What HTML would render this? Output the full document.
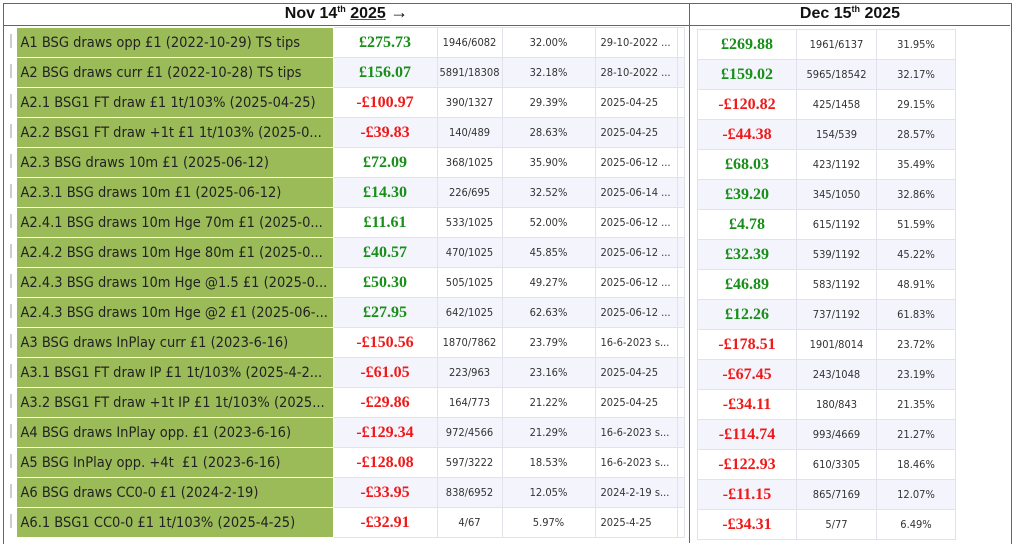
<!DOCTYPE html>
<html><head><meta charset="utf-8"><style>
body{margin:0;width:1024px;height:536px;overflow:hidden;background:#fff;font-family:"DejaVu Sans","Liberation Sans",sans-serif;position:relative}
.frame{position:absolute;left:3px;top:3px;width:1007px;height:540px;border:1px solid #666;border-bottom:none}
.hdr{position:absolute;top:3px;height:22px;border-bottom:1px solid #666;font-family:"Liberation Sans",sans-serif;font-weight:bold;font-size:16px;text-align:center;line-height:22px;color:#111}
.vdiv{position:absolute;left:689px;top:3px;width:1px;height:540px;background:#666}
table{position:absolute;border-collapse:collapse;table-layout:fixed}
td{height:29px;padding:0;border:1px solid #e2e2ea;font-size:11px;color:#333;text-align:center;white-space:nowrap;overflow:hidden;font-family:"DejaVu Sans Condensed","DejaVu Sans",sans-serif}
tr:nth-child(even) td{background:#f4f4fc}
td.lbl{background:#9bbb59 !important;font-size:14.5px;color:#222;text-align:left;padding-left:4px;border-color:#fff}
td.mk{border:none;background:#fff !important}
td.mk span{display:inline-block;width:2px;height:14px;background:#ccc}
td.d{text-align:left;padding-left:5px}
.g,.r{font-family:"Liberation Serif",serif;font-weight:bold;font-size:16px}
.g{color:#188f18}.r{color:#f01818}
sup{font-size:9px;line-height:0;vertical-align:6px}
.arr{font-size:18px;font-weight:normal;line-height:0}
</style></head><body>
<div class="frame"></div>
<div class="hdr" style="left:4px;width:685px">Nov 14<sup>th</sup> <span style="text-decoration:underline;text-decoration-color:#2050d0">2025</span> <span class="arr">→</span></div>
<div class="hdr" style="left:690px;width:320px">Dec 15<sup>th</sup> 2025</div>
<div class="vdiv"></div>
<table style="left:6px;top:27px;width:678px">
<colgroup><col style="width:10px"><col style="width:317px"><col style="width:104px"><col style="width:65px"><col style="width:93px"><col style="width:82px"><col style="width:7px"></colgroup>
<tr><td class="mk"><span></span></td><td class="lbl">A1 BSG draws opp £1 (2022-10-29) TS tips</td><td class="g">£275.73</td><td>1946/6082</td><td>32.00%</td><td class="d">29-10-2022 ...</td><td></td></tr>
<tr><td class="mk"><span></span></td><td class="lbl">A2 BSG draws curr £1 (2022-10-28) TS tips</td><td class="g">£156.07</td><td>5891/18308</td><td>32.18%</td><td class="d">28-10-2022 ...</td><td></td></tr>
<tr><td class="mk"><span></span></td><td class="lbl">A2.1 BSG1 FT draw £1 1t/103% (2025-04-25)</td><td class="r">-£100.97</td><td>390/1327</td><td>29.39%</td><td class="d">2025-04-25</td><td></td></tr>
<tr><td class="mk"><span></span></td><td class="lbl">A2.2 BSG1 FT draw +1t £1 1t/103% (2025-0...</td><td class="r">-£39.83</td><td>140/489</td><td>28.63%</td><td class="d">2025-04-25</td><td></td></tr>
<tr><td class="mk"><span></span></td><td class="lbl">A2.3 BSG draws 10m £1 (2025-06-12)</td><td class="g">£72.09</td><td>368/1025</td><td>35.90%</td><td class="d">2025-06-12 ...</td><td></td></tr>
<tr><td class="mk"><span></span></td><td class="lbl">A2.3.1 BSG draws 10m £1 (2025-06-12)</td><td class="g">£14.30</td><td>226/695</td><td>32.52%</td><td class="d">2025-06-14 ...</td><td></td></tr>
<tr><td class="mk"><span></span></td><td class="lbl">A2.4.1 BSG draws 10m Hge 70m £1 (2025-0...</td><td class="g">£11.61</td><td>533/1025</td><td>52.00%</td><td class="d">2025-06-12 ...</td><td></td></tr>
<tr><td class="mk"><span></span></td><td class="lbl">A2.4.2 BSG draws 10m Hge 80m £1 (2025-0...</td><td class="g">£40.57</td><td>470/1025</td><td>45.85%</td><td class="d">2025-06-12 ...</td><td></td></tr>
<tr><td class="mk"><span></span></td><td class="lbl">A2.4.3 BSG draws 10m Hge @1.5 £1 (2025-0...</td><td class="g">£50.30</td><td>505/1025</td><td>49.27%</td><td class="d">2025-06-12 ...</td><td></td></tr>
<tr><td class="mk"><span></span></td><td class="lbl">A2.4.3 BSG draws 10m Hge @2 £1 (2025-06-...</td><td class="g">£27.95</td><td>642/1025</td><td>62.63%</td><td class="d">2025-06-12 ...</td><td></td></tr>
<tr><td class="mk"><span></span></td><td class="lbl">A3 BSG draws InPlay curr £1 (2023-6-16)</td><td class="r">-£150.56</td><td>1870/7862</td><td>23.79%</td><td class="d">16-6-2023 s...</td><td></td></tr>
<tr><td class="mk"><span></span></td><td class="lbl">A3.1 BSG1 FT draw IP £1 1t/103% (2025-4-2...</td><td class="r">-£61.05</td><td>223/963</td><td>23.16%</td><td class="d">2025-04-25</td><td></td></tr>
<tr><td class="mk"><span></span></td><td class="lbl">A3.2 BSG1 FT draw +1t IP £1 1t/103% (2025...</td><td class="r">-£29.86</td><td>164/773</td><td>21.22%</td><td class="d">2025-04-25</td><td></td></tr>
<tr><td class="mk"><span></span></td><td class="lbl">A4 BSG draws InPlay opp. £1 (2023-6-16)</td><td class="r">-£129.34</td><td>972/4566</td><td>21.29%</td><td class="d">16-6-2023 s...</td><td></td></tr>
<tr><td class="mk"><span></span></td><td class="lbl">A5 BSG InPlay opp. +4t &nbsp;£1 (2023-6-16)</td><td class="r">-£128.08</td><td>597/3222</td><td>18.53%</td><td class="d">16-6-2023 s...</td><td></td></tr>
<tr><td class="mk"><span></span></td><td class="lbl">A6 BSG draws CC0-0 £1 (2024-2-19)</td><td class="r">-£33.95</td><td>838/6952</td><td>12.05%</td><td class="d">2024-2-19 s...</td><td></td></tr>
<tr><td class="mk"><span></span></td><td class="lbl">A6.1 BSG1 CC0-0 £1 1t/103% (2025-4-25)</td><td class="r">-£32.91</td><td>4/67</td><td>5.97%</td><td class="d">2025-4-25</td><td></td></tr>
</table>
<table style="left:697px;top:29px;width:258px">
<colgroup><col style="width:99px"><col style="width:80px"><col style="width:79px"></colgroup>
<tr><td class="g">£269.88</td><td>1961/6137</td><td>31.95%</td></tr>
<tr><td class="g">£159.02</td><td>5965/18542</td><td>32.17%</td></tr>
<tr><td class="r">-£120.82</td><td>425/1458</td><td>29.15%</td></tr>
<tr><td class="r">-£44.38</td><td>154/539</td><td>28.57%</td></tr>
<tr><td class="g">£68.03</td><td>423/1192</td><td>35.49%</td></tr>
<tr><td class="g">£39.20</td><td>345/1050</td><td>32.86%</td></tr>
<tr><td class="g">£4.78</td><td>615/1192</td><td>51.59%</td></tr>
<tr><td class="g">£32.39</td><td>539/1192</td><td>45.22%</td></tr>
<tr><td class="g">£46.89</td><td>583/1192</td><td>48.91%</td></tr>
<tr><td class="g">£12.26</td><td>737/1192</td><td>61.83%</td></tr>
<tr><td class="r">-£178.51</td><td>1901/8014</td><td>23.72%</td></tr>
<tr><td class="r">-£67.45</td><td>243/1048</td><td>23.19%</td></tr>
<tr><td class="r">-£34.11</td><td>180/843</td><td>21.35%</td></tr>
<tr><td class="r">-£114.74</td><td>993/4669</td><td>21.27%</td></tr>
<tr><td class="r">-£122.93</td><td>610/3305</td><td>18.46%</td></tr>
<tr><td class="r">-£11.15</td><td>865/7169</td><td>12.07%</td></tr>
<tr><td class="r">-£34.31</td><td>5/77</td><td>6.49%</td></tr>
</table>
</body></html>
